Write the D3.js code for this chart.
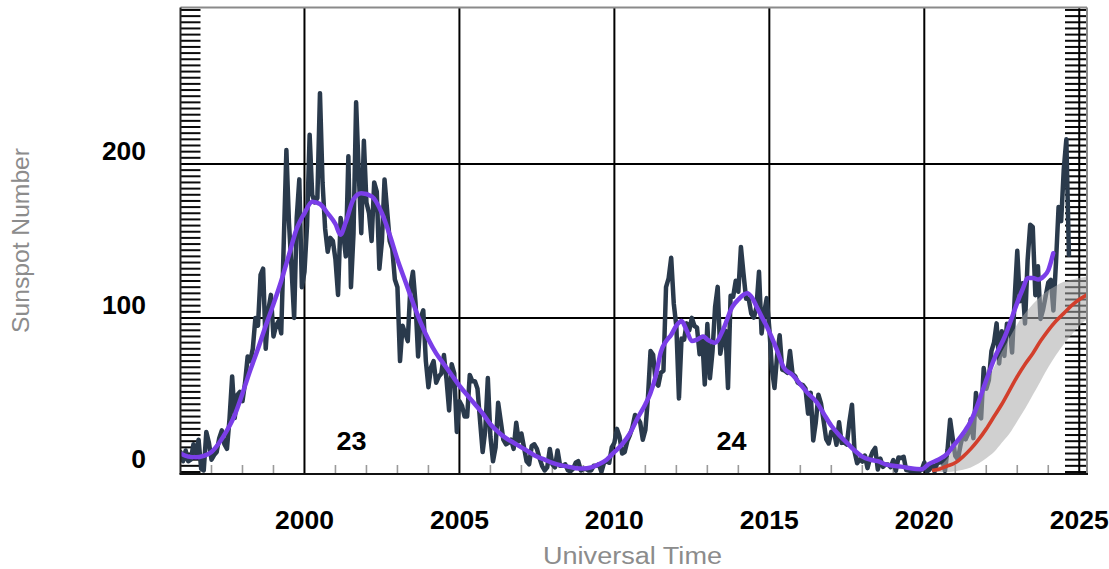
<!DOCTYPE html>
<html>
<head>
<meta charset="utf-8">
<script src="https://cdn.jsdelivr.net/npm/d3@7"></script>
<style>
  html, body { margin: 0; padding: 0; background: #ffffff; }
  svg { display: block; }
  text { font-family: "Liberation Sans", Arial, Helvetica, sans-serif; }
</style>
</head>
<body>
<svg id="chart" width="1109" height="569"></svg>
<script>
// Monthly mean sunspot number, one value per month starting January 1996
const monthlyStart = 1996;
const monthlySSN = [
  13, 7, 14, 7, 8, 18, 12, 21, 2, 1, 26, 19,                               // 1996
  8, 11, 13, 22, 27, 18, 15, 35, 62, 35, 50, 52,                           // 1997
  46, 58, 75, 72, 80, 100, 95, 128, 132, 80, 105, 115,                     // 1998
  88, 95, 98, 90, 150, 209, 162, 132, 100, 165, 190, 120,                  // 1999
  130, 160, 219, 180, 175, 178, 246, 188, 158, 143, 152, 150,              // 2000
  138, 115, 165, 155, 140, 205, 120, 155, 240, 195, 155, 215,              // 2001
  175, 168, 150, 188, 182, 132, 150, 190, 170, 150, 145, 125,              // 2002
  120, 72, 95, 90, 85, 120, 130, 110, 75, 100, 105, 72,                    // 2003
  55, 68, 72, 58, 62, 64, 76, 60, 40, 70, 64, 26,                          // 2004
  46, 43, 36, 36, 63, 59, 59, 54, 33, 13, 27, 61,                          // 2005
  23, 7, 16, 45, 33, 21, 18, 19, 21, 15, 32, 20,                           // 2006
  25, 16, 7, 5, 17, 18, 15, 9, 4, 1, 3, 15,                                // 2007
  5, 3, 14, 4, 4, 5, 1, 0.5, 2, 6, 7, 1,                                   // 2008
  2, 2, 1, 1, 4, 4, 5, 0, 6, 7, 6, 16,                                     // 2009
  19, 28, 23, 12, 13, 20, 24, 29, 37, 35, 32, 21,                          // 2010
  27.3, 48.3, 78.6, 76.1, 58.2, 56.1, 64.5, 65.8, 120.1, 125.7, 139.1, 109.3, // 2011
  94.4, 47.8, 86.6, 85.9, 96.5, 92.0, 100.1, 94.8, 93.7, 76.5, 87.6, 56.8,  // 2012
  96.1, 60.9, 78.3, 107.3, 120.2, 76.7, 86.2, 91.8, 54.5, 114.4, 113.9, 124.2, // 2013
  117.0, 146.1, 128.7, 112.5, 112.5, 102.9, 100.2, 106.9, 130.0, 90.0, 103.6, 112.9, // 2014
  93.0, 66.7, 54.5, 75.3, 88.8, 66.5, 65.8, 64.4, 78.6, 63.6, 62.2, 58.0,   // 2015
  57.0, 56.4, 54.1, 37.9, 51.5, 20.5, 32.4, 50.2, 44.6, 33.4, 21.4, 18.5,   // 2016
  26.1, 26.4, 17.7, 32.3, 18.9, 19.2, 17.8, 32.6, 43.7, 13.2, 5.7, 8.2,     // 2017
  6.8, 10.7, 2.5, 8.9, 13.1, 15.6, 1.6, 8.7, 3.3, 4.9, 4.9, 3.1,           // 2018
  7.7, 0.8, 9.4, 9.1, 9.9, 1.2, 0.9, 0.5, 1.1, 0.4, 0.5, 1.5,              // 2019
  6.2, 0.2, 1.5, 5.2, 0.2, 5.8, 6.1, 7.5, 0.6, 14.4, 34.0, 21.8,           // 2020
  10.4, 8.2, 17.2, 24.5, 21.2, 25.0, 34.3, 22.0, 51.3, 37.4, 34.8, 67.5,   // 2021
  54.0, 59.7, 78.5, 84.1, 96.5, 70.5, 91.4, 75.4, 96.3, 95.4, 77.6, 113.1, // 2022
  143.6, 110.9, 122.6, 96.4, 137.4, 160.5, 159.1, 114.8, 133.6, 99.4, 105.4, 114.2, // 2023
  123.0, 124.7, 104.9, 136.5, 172.1, 162.9, 196.5, 216.0, 141.1            // 2024
];

// 13-month smoothed sunspot number (decimal year, value)
const smoothedTimes = [
  1996.0, 1996.25, 1996.5, 1996.75, 1997.0, 1997.25, 1997.5, 1997.75,
  1998.0, 1998.25, 1998.5, 1998.75, 1999.0, 1999.25, 1999.5, 1999.75,
  2000.0, 2000.25, 2000.5, 2000.75, 2001.0, 2001.16, 2001.33, 2001.58, 2001.83,
  2002.17, 2002.5, 2002.75, 2003.0, 2003.25, 2003.5, 2003.75,
  2004.0, 2004.25, 2004.5, 2004.75, 2005.0, 2005.25, 2005.5, 2005.75,
  2006.0, 2006.25, 2006.5, 2006.75, 2007.0, 2007.25, 2007.5, 2007.75,
  2008.0, 2008.25, 2008.5, 2008.75, 2009.0, 2009.25, 2009.5, 2009.75,
  2010.0, 2010.25, 2010.5, 2010.75, 2011.0, 2011.16, 2011.33, 2011.5, 2011.67, 2011.83,
  2012.0, 2012.17, 2012.33, 2012.5, 2012.67, 2012.87, 2013.0, 2013.25, 2013.5, 2013.8,
  2014.0, 2014.28, 2014.45, 2014.6, 2014.75, 2014.93, 2015.25, 2015.46, 2015.75,
  2016.0, 2016.25, 2016.54, 2016.75, 2017.0, 2017.25, 2017.5, 2017.75,
  2018.0, 2018.25, 2018.5, 2018.75, 2019.0, 2019.25, 2019.5, 2019.75, 2019.92,
  2020.13, 2020.45, 2020.75, 2020.9, 2021.1, 2021.32, 2021.5, 2021.65, 2021.97,
  2022.29, 2022.6, 2022.84, 2023.0, 2023.16, 2023.35, 2023.5, 2023.68, 2023.85,
  2024.0, 2024.08, 2024.16
];
const smoothedSSN = [
  12, 10, 9.5, 10.5, 13, 19, 27, 37,
  51, 66, 80, 95, 109, 124, 141, 158,
  168, 175.5, 174, 168, 161, 154, 162, 177, 181,
  179, 168, 154, 138, 124, 110, 97,
  86, 77, 70, 63, 56, 50, 44, 38,
  31, 26, 22, 19, 16, 13, 10, 8,
  6, 4.5, 3.5, 2.5, 2.2, 3, 5, 8,
  13, 18, 25, 35, 44, 51, 62, 78, 85, 89,
  95, 98, 92, 85, 86, 88, 86, 84, 92, 107,
  112, 116, 113, 107, 101, 94, 79, 68, 63,
  57, 51, 45, 38, 30, 24, 19, 14,
  10, 8, 7, 5, 4, 3.5, 2.6, 1.9, 1.8,
  5, 8, 12, 16, 21, 27, 33, 40, 58,
  75, 88, 101, 110, 118, 126, 126, 125, 127,
  131, 136, 142
];

// Predicted cycle 25 progression with its uncertainty range
const predTimes = [
  2020.25, 2020.5, 2020.75, 2021.0, 2021.25, 2021.5, 2021.75, 2022.0, 2022.25, 2022.5, 2022.75,
  2023.0, 2023.25, 2023.5, 2023.75, 2024.0, 2024.25, 2024.5, 2024.75, 2025.0, 2025.25
];
const predSSN  = [1, 2, 4, 6, 10, 15, 21, 28, 36, 44, 53, 62, 70, 77, 85, 92, 98, 103, 108, 112, 115];
const predHigh = [0, 4, 9, 17, 26, 36, 47, 58, 68, 78, 87, 96, 103, 109, 114, 118, 121, 123.5, 125, 126, 127];
const predLow  = [0, 0, 0, 0.5, 1.5, 3, 5.5, 9, 13, 19, 25, 33, 41, 50, 59, 68, 76, 83, 89, 95, 99];

// Axis labels
const yearTicks = [2000, 2005, 2010, 2015, 2020, 2025];
const ssnTicks = [0, 100, 200];
const cycleLabels = ["23", "24"];
const cycleLabelYears = [2001.52, 2013.78];
const cycleLabelValue = 14;

const svg = d3.select("#chart");

const x = d3.scaleLinear().domain([1996, 2025.25]).range([180.5, 1087]);
const y = d3.scaleLinear().domain([-1.3, 301.6]).range([474, 7.5]);

const [x0, x1] = x.range();
const [yb, yt] = y.range();

// plot clip
svg.append("defs").append("clipPath").attr("id", "plotClip")
  .append("rect").attr("x", x0).attr("y", yt).attr("width", x1 - x0).attr("height", yb - yt);

// minor year ticks along the bottom
const minorYears = d3.range(1997, 2025).filter(v => v % 5 !== 0);
svg.append("g").selectAll("line").data(minorYears).join("line")
  .attr("x1", d => x(d)).attr("x2", d => x(d))
  .attr("y1", yb - 9).attr("y2", yb)
  .attr("stroke", "#9a9a9a").attr("stroke-width", 1.6);

// ladder ticks on the left and right edges
const ladder = d3.range(0, 301, 4);
const ladderG = svg.append("g").attr("stroke", "#0a0a0a").attr("stroke-width", 2);
ladderG.selectAll("line.l").data(ladder).join("line").attr("class", "l")
  .attr("x1", x0).attr("x2", x0 + 20)
  .attr("y1", d => y(d)).attr("y2", d => y(d));
ladderG.selectAll("line.r").data(ladder).join("line").attr("class", "r")
  .attr("x1", x1 - 22).attr("x2", x1)
  .attr("y1", d => y(d)).attr("y2", d => y(d));

// grid lines
svg.append("g").selectAll("line").data(yearTicks).join("line")
  .attr("x1", d => x(d)).attr("x2", d => x(d))
  .attr("y1", yt).attr("y2", yb)
  .attr("stroke", "#000").attr("stroke-width", 2);
svg.append("g").selectAll("line").data(ssnTicks.filter(d => d > 0)).join("line")
  .attr("x1", x0).attr("x2", x1)
  .attr("y1", d => y(d)).attr("y2", d => y(d))
  .attr("stroke", "#000").attr("stroke-width", 2);

const plot = svg.append("g").attr("clip-path", "url(#plotClip)");

// monthly values
const monthly = monthlySSN.map((v, i) => [monthlyStart + i / 12, v]);
plot.append("path")
  .datum(monthly)
  .attr("fill", "none")
  .attr("stroke", "#2a3a4c")
  .attr("stroke-width", 4.5)
  .attr("stroke-linejoin", "round")
  .attr("stroke-linecap", "round")
  .attr("d", d3.line().x(d => x(d[0])).y(d => y(d[1])));

// prediction range
const band = predTimes.map((t, i) => ({ t, lo: predLow[i], hi: predHigh[i] }));
plot.append("path")
  .datum(band)
  .attr("fill", "#a9a9a9")
  .attr("fill-opacity", 0.55)
  .attr("d", d3.area().curve(d3.curveMonotoneX)
    .x(d => x(d.t)).y0(d => y(d.lo)).y1(d => y(d.hi)));

// predicted progression
plot.append("path")
  .datum(predTimes.map((t, i) => [t, predSSN[i]]))
  .attr("fill", "none")
  .attr("stroke", "#d23f2c")
  .attr("stroke-width", 3.6)
  .attr("d", d3.line().curve(d3.curveMonotoneX).x(d => x(d[0])).y(d => y(d[1])));

// smoothed values
plot.append("path")
  .datum(smoothedTimes.map((t, i) => [t, smoothedSSN[i]]))
  .attr("fill", "none")
  .attr("stroke", "#7a3ee8")
  .attr("stroke-width", 4.5)
  .attr("stroke-linejoin", "round")
  .attr("stroke-linecap", "round")
  .attr("d", d3.line().curve(d3.curveMonotoneX).x(d => x(d[0])).y(d => y(d[1])));

// frame
svg.append("line").attr("x1", x0).attr("x2", x1).attr("y1", yt).attr("y2", yt)
  .attr("stroke", "#8a8a8a").attr("stroke-width", 2);
svg.append("line").attr("x1", x1).attr("x2", x1).attr("y1", yt).attr("y2", yb)
  .attr("stroke", "#8a8a8a").attr("stroke-width", 2);
svg.append("line").attr("x1", x0).attr("x2", x0).attr("y1", yt).attr("y2", yb)
  .attr("stroke", "#222").attr("stroke-width", 2);
svg.append("line").attr("x1", x0 - 1).attr("x2", x1 + 1).attr("y1", yb).attr("y2", yb)
  .attr("stroke", "#111").attr("stroke-width", 2);

// axis tick labels
svg.append("g").selectAll("text").data(yearTicks).join("text")
  .attr("x", d => x(d)).attr("y", 529)
  .attr("text-anchor", "middle")
  .attr("font-size", 25).attr("font-weight", "bold").attr("fill", "#000")
  .attr("textLength", 59).attr("lengthAdjust", "spacingAndGlyphs")
  .text(d => d);

svg.append("g").selectAll("text").data(ssnTicks).join("text")
  .attr("x", 146).attr("y", d => y(d) - 4)
  .attr("text-anchor", "end")
  .attr("font-size", 25).attr("font-weight", "bold").attr("fill", "#000")
  .attr("textLength", d => String(d).length * 14.7).attr("lengthAdjust", "spacingAndGlyphs")
  .text(d => d);

// cycle numbers
svg.append("g").selectAll("text").data(cycleLabels).join("text")
  .attr("x", (d, i) => x(cycleLabelYears[i])).attr("y", y(cycleLabelValue))
  .attr("text-anchor", "middle")
  .attr("font-size", 25).attr("font-weight", "bold").attr("fill", "#000")
  .attr("textLength", 30).attr("lengthAdjust", "spacingAndGlyphs")
  .text(d => d);

// axis titles
svg.append("text")
  .attr("x", 632.5).attr("y", 564)
  .attr("text-anchor", "middle")
  .attr("font-size", 23).attr("fill", "#8c8c8c")
  .attr("textLength", 179).attr("lengthAdjust", "spacingAndGlyphs")
  .text("Universal Time");

svg.append("text")
  .attr("transform", "translate(29,240.5) rotate(-90)")
  .attr("text-anchor", "middle")
  .attr("font-size", 23).attr("fill", "#8c8c8c")
  .attr("textLength", 185).attr("lengthAdjust", "spacingAndGlyphs")
  .text("Sunspot Number");
</script>
</body>
</html>
